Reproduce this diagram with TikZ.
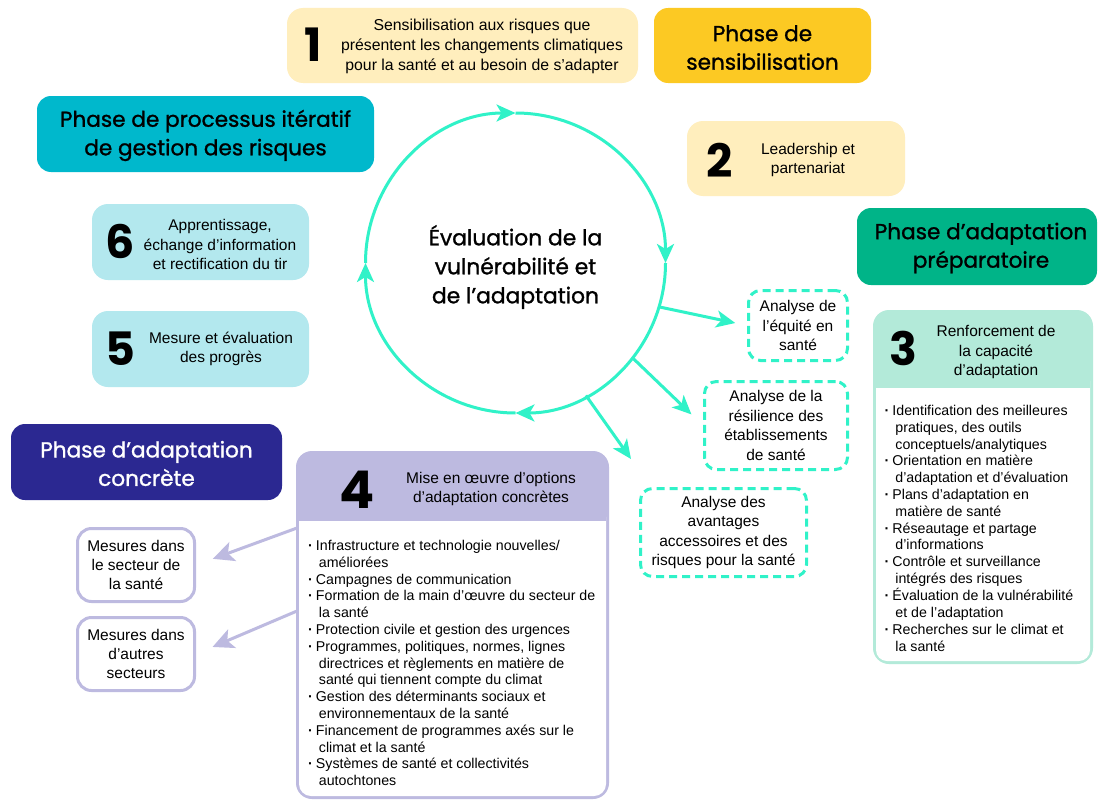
\documentclass[tikz,border=0pt]{standalone}
\usepackage{fontspec}
\setmainfont{Liberation Sans}
\newfontfamily\headfont{Poppins}
\newfontfamily\headfontm[FakeBold=1.2]{Poppins}
\usetikzlibrary{arrows.meta,calc}
\definecolor{cLYellow}{HTML}{FFEEBD}
\definecolor{cGold}{HTML}{FCC923}
\definecolor{cTeal}{HTML}{00B8CC}
\definecolor{cGreen}{HTML}{00B488}
\definecolor{cLCyan}{HTML}{B3E8EE}
\definecolor{cMint}{HTML}{B3EAD9}
\definecolor{cAqua}{HTML}{30F2C8}
\definecolor{cIndigo}{HTML}{2B2891}
\definecolor{cLav}{HTML}{BDBAE0}
\newcommand\bl{\textbf{·}}
\tikzset{
  phase/.style={rounded corners=14pt, inner sep=0pt, align=center,
    font=\headfontm\fontsize{21.6}{28.5}\selectfont},
  numbox/.style={rounded corners=16pt, inner sep=0pt},
  bignum/.style={inner sep=0pt, font=\headfont\bfseries\fontsize{46}{46}\selectfont},
  bodytxt/.style={inner sep=0pt, align=center, font=\fontsize{15.5}{19.5}\selectfont},
  listtxt/.style={inner sep=0pt, anchor=north west, font=\fontsize{14.2}{16.8}\selectfont},
  dashbox/.style={draw=cAqua, line width=3pt, dash pattern=on 8pt off 5pt, rounded corners=12pt,
    inner sep=0pt, align=center, font=\fontsize{15.5}{19.5}\selectfont},
  mesbox/.style={draw=cLav, fill=white, line width=3pt, rounded corners=14pt,
    inner sep=0pt, align=center, font=\fontsize{15.5}{19}\selectfont},
  aqline/.style={draw=cAqua, line width=3pt, -{Stealth[length=19pt,width=17pt,inset=5pt]}},
  lavline/.style={draw=cLav, line width=3pt, -{Stealth[length=21pt,width=20pt,inset=5pt]}},
}
\begin{document}
\begin{tikzpicture}[x=1pt,y=-1pt]
\fill[white] (0,0) rectangle (1099,800);
\useasboundingbox (0,0) rectangle (1099,800);

% top boxes
\node[numbox, fill=cLYellow, minimum width=351pt, minimum height=75pt] (b1) at (462.5,45.5) {};
\node[bignum] (n1) at (313,45) {1};
\node[bodytxt, font=\fontsize{15.8}{20}\selectfont] (t1) at (482,46) {Sensibilisation aux risques que\\présentent les changements climatiques\\pour la santé et au besoin de s’adapter};
\node[phase, fill=cGold, minimum width=217pt, minimum height=75pt] (ps) at (762.5,45.5) {};
\node[phase] (pst) at (762.5,47.5) {Phase de\\sensibilisation};

\node[phase, fill=cTeal, minimum width=337pt, minimum height=76pt] (pp) at (205.5,134) {};
\node[phase] (ppt) at (205.5,135.5) {Phase de processus itératif\\de gestion des risques};

\node[numbox, fill=cLYellow, minimum width=218pt, minimum height=75pt] (b2) at (796,158.5) {};
\node[bignum] (n2) at (720,160) {2};
\node[bodytxt] (t2) at (808,160) {Leadership et\\partenariat};

\node[phase, fill=cGreen, minimum width=240pt, minimum height=77pt] (pa) at (977,246.5) {};
\node[phase] (pat) at (981,248) {Phase d’adaptation\\préparatoire};

% left boxes 6 and 5
\node[numbox, fill=cLCyan, minimum width=217pt, minimum height=76pt] (b6) at (200.5,242) {};
\node[bignum] (n6) at (120,241) {6};
\node[bodytxt] (t6) at (220,244.5) {Apprentissage,\\échange d’information\\et rectification du tir};
\node[numbox, fill=cLCyan, minimum width=217pt, minimum height=76pt] (b5) at (200.5,349) {};
\node[bignum] (n5) at (120,349) {5};
\node[bodytxt] (t5) at (221,349) {Mesure et évaluation\\des progrès};

% circle
\node[circle, minimum size=300pt, inner sep=0pt, outer sep=0pt] (C) at (515.5,263) {};
\node[align=center, inner sep=0pt, font=\headfontm\fontsize{21.8}{29}\selectfont] (Ct) at (515.5,267) {Évaluation de la\\vulnérabilité et\\de l’adaptation};
\draw[aqline] (C.west) arc[start angle=180, end angle=270, radius=150];
\draw[aqline] (C.north) arc[start angle=270, end angle=360, radius=150];
\draw[aqline] (C.east) arc[start angle=0, end angle=90, radius=150];
\draw[aqline] (C.south) arc[start angle=90, end angle=180, radius=150];

% dashed analysis boxes
\node[dashbox, minimum width=99pt, minimum height=70pt] (ea) at (798,325.5) {Analyse de\\l’équité en\\santé};
\node[dashbox, minimum width=143pt, minimum height=88pt] (er) at (776,425.5) {Analyse de la\\résilience des\\établissements\\de santé};
\node[dashbox, minimum width=166pt, minimum height=88pt] (ev) at (723.5,532.5) {Analyse des\\avantages\\accessoires et des\\risques pour la santé};
\coordinate (tip3) at (631,459);
\draw[aqline, shorten >=12pt] (C.-17) -- (ea.west);
\draw[aqline, shorten >=16pt] (C.-39) -- (er.west);
\draw[aqline] (C.-62) -- (tip3);

% box 3
\node[numbox, fill=cMint, minimum width=220pt, minimum height=354pt] (b3) at (983,487) {};
\fill[white, rounded corners=11pt] (876,370) rectangle (1090,661);
\fill[cMint] (876,369) rectangle (1090,388);
\node[bignum] (n3) at (903,348) {3};
\node[bodytxt] (t3) at (996,352) {Renforcement de\\la capacité\\d’adaptation};
\node[listtxt] (l3) at (884.5,403.5) {\begin{tabular}{@{}l@{\hspace{3pt}}l@{}}
\bl & Identification des meilleures\\
 & \hspace{3pt}pratiques, des outils\\
 & \hspace{3pt}conceptuels/analytiques\\
\bl & Orientation en matière\\
 & \hspace{3pt}d’adaptation et d’évaluation\\
\bl & Plans d’adaptation en\\
 & \hspace{3pt}matière de santé\\
\bl & Réseautage et partage\\
 & \hspace{3pt}d’informations\\
\bl & Contrôle et surveillance\\
 & \hspace{3pt}intégrés des risques\\
\bl & Évaluation de la vulnérabilité\\
 & \hspace{3pt}et de l’adaptation\\
\bl & Recherches sur le climat et\\
 & \hspace{3pt}la santé
\end{tabular}};

% concrete phase
\node[phase, fill=cIndigo, minimum width=271pt, minimum height=76pt] (pc) at (146.5,462) {};
\node[phase, text=white] (pct) at (146.5,463.5) {Phase d’adaptation\\concrète};

% box 4
\node[numbox, fill=cLav, minimum width=313pt, minimum height=348pt] (b4) at (452.5,625) {};
\fill[white, rounded corners=12pt] (299,505) rectangle (606,796);
\fill[cLav] (299,504) rectangle (606,521);
\node[bignum, font=\headfont\bfseries\fontsize{52}{52}\selectfont] (n4) at (357,490) {4};
\node[bodytxt] (t4) at (491,489) {Mise en œuvre d’options\\d’adaptation concrètes};
\node[listtxt] (l4) at (308,538.5) {\begin{tabular}{@{}l@{\hspace{3pt}}l@{}}
\bl & Infrastructure et technologie nouvelles/\\
 & \hspace{3pt}améliorées\\
\bl & Campagnes de communication\\
\bl & Formation de la main d’œuvre du secteur de\\
 & \hspace{3pt}la santé\\
\bl & Protection civile et gestion des urgences\\
\bl & Programmes, politiques, normes, lignes\\
 & \hspace{3pt}directrices et règlements en matière de\\
 & \hspace{3pt}santé qui tiennent compte du climat\\
\bl & Gestion des déterminants sociaux et\\
 & \hspace{3pt}environnementaux de la santé\\
\bl & Financement de programmes axés sur le\\
 & \hspace{3pt}climat et la santé\\
\bl & Systèmes de santé et collectivités\\
 & \hspace{3pt}autochtones
\end{tabular}};

% mesures
\node[mesbox, minimum width=117pt, minimum height=73pt] (m1) at (136,565) {Mesures dans\\le secteur de\\la santé};
\node[mesbox, minimum width=117pt, minimum height=73pt] (m2) at (136,654) {Mesures dans\\d’autres\\secteurs};
\coordinate (s1) at (297,528);
\coordinate (s2) at (297,611);
\draw[lavline, shorten >=18pt] (s1) -- (m1.east);
\draw[lavline, shorten >=18pt] (s2) -- (m2.east);
\end{tikzpicture}
\end{document}
